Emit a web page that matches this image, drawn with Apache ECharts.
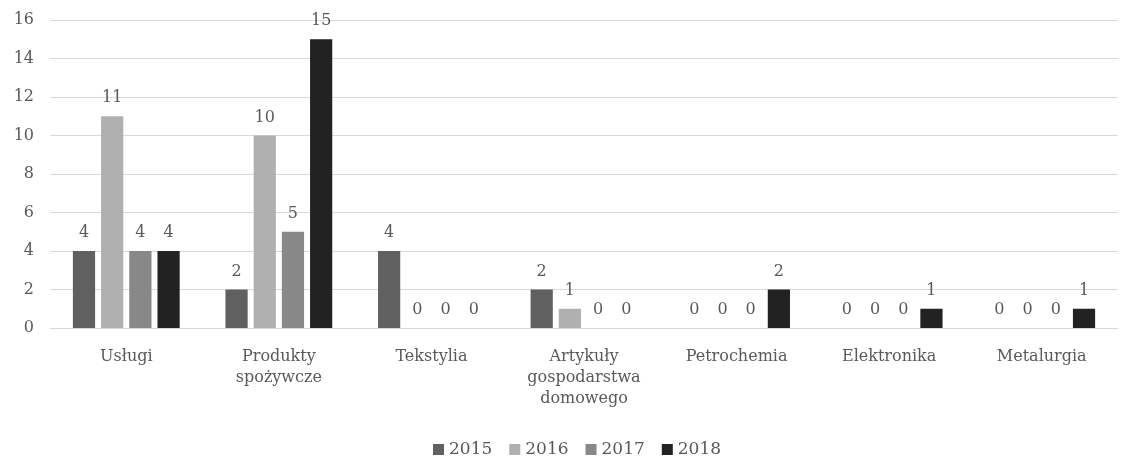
<!DOCTYPE html>
<html><head><meta charset="utf-8">
<script src="https://cdn.jsdelivr.net/npm/echarts@6/dist/echarts.min.js"></script>
<style>html,body{margin:0;padding:0;background:#fff}#c{width:1126px;height:458px}</style>
</head><body><div id="c"></div>
<script>
const categories = ['Usługi', 'Produkty\nspożywcze', 'Tekstylia', 'Artykuły\ngospodarstwa\ndomowego', 'Petrochemia', 'Elektronika', 'Metalurgia'];
const seriesNames = ['2015', '2016', '2017', '2018'];
const v2015 = [4, 2, 4, 2, 0, 0, 0];
const v2016 = [11, 10, 0, 1, 0, 0, 0];
const v2017 = [4, 5, 0, 0, 0, 0, 0];
const v2018 = [4, 15, 0, 0, 2, 1, 1];
const yTicks = [0, 2, 4, 6, 8, 10, 12, 14, 16];
const colors = ['#606060', '#b0b0b0', '#888888', '#222222'];
const font = '"DejaVu Serif", "Liberation Serif", serif';
const values = [v2015, v2016, v2017, v2018];
const chart = echarts.init(document.getElementById('c'));
chart.setOption({
  animation: false,
  textStyle: { fontFamily: font },
  grid: { left: 50, right: 8, top: 20, bottom: 130, containLabel: false },
  legend: {
    top: 436, left: 428, itemWidth: 11, itemHeight: 11, itemGap: 17,
    icon: 'rect',
    textStyle: { fontFamily: font, fontSize: 17, color: '#595959', padding: [0, 0, 0, 0] },
    data: seriesNames
  },
  xAxis: {
    type: 'category', data: categories,
    axisLine: { lineStyle: { color: '#d9d9d9', width: 1 } },
    axisTick: { show: false },
    axisLabel: { fontFamily: font, fontSize: 16, color: '#595959', margin: 18, lineHeight: 21, interval: 0 }
  },
  yAxis: {
    type: 'value', min: yTicks[0], max: yTicks[yTicks.length - 1], interval: 2,
    axisLine: { show: false }, axisTick: { show: false },
    splitLine: { lineStyle: { color: '#d9d9d9', width: 1 } },
    axisLabel: { fontFamily: font, fontSize: 16, color: '#595959', margin: 16 }
  },
  series: seriesNames.map((n, i) => ({
    name: n, type: 'bar', data: values[i],
    barGap: '27%', barCategoryGap: '30%',
    itemStyle: { color: colors[i] },
    label: { show: true, position: 'top', distance: 10, fontFamily: font, fontSize: 16, color: '#595959' }
  }))
});
</script></body></html>
